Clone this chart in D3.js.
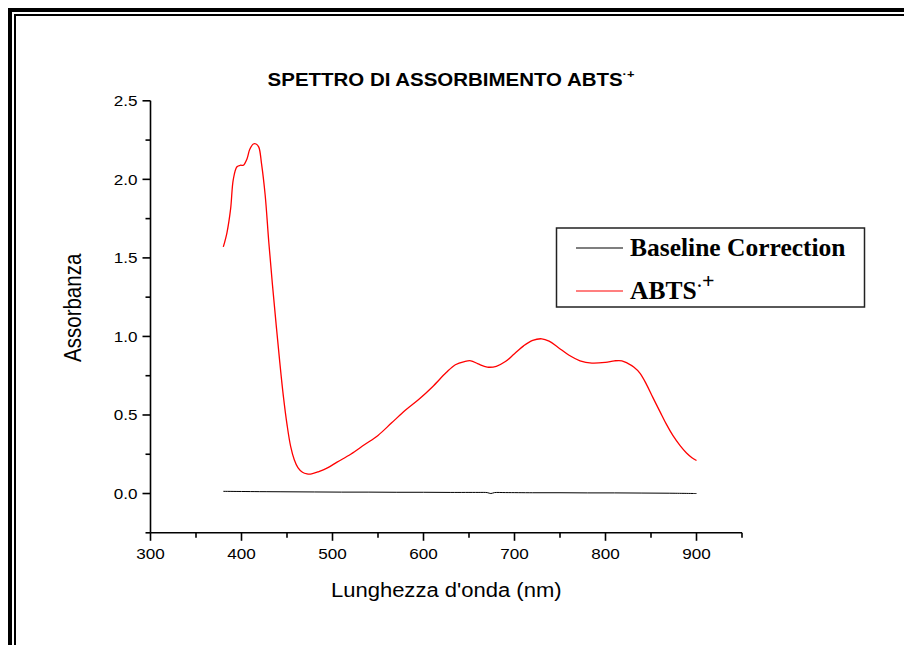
<!DOCTYPE html>
<html><head><meta charset="utf-8">
<script src="https://cdn.jsdelivr.net/npm/d3@7"></script>
<style>body{margin:0;background:#fff}svg{display:block}</style>
</head><body>
<script>
// ---- data ----
const wavelengthABTS = [380,384,388,391,395,399,402,406,409,413,416,419,422,426,430,434,438,442,446,450,454,458,462,467,472,477,485,495,505,520,535,550,565,580,595,610,625,635,645,652,660,670,680,690,700,710,720,730,738,748,760,772,785,800,810,818,824,831,838,845,852,860,867,874,882,889,895,900];
const absABTS = [1.57,1.66,1.81,2.00,2.08,2.09,2.09,2.13,2.19,2.225,2.225,2.205,2.10,1.90,1.60,1.33,1.08,0.84,0.62,0.44,0.30,0.215,0.165,0.135,0.125,0.125,0.14,0.165,0.20,0.25,0.31,0.37,0.45,0.53,0.60,0.68,0.77,0.82,0.84,0.845,0.825,0.805,0.81,0.84,0.89,0.94,0.975,0.985,0.97,0.93,0.88,0.845,0.83,0.835,0.845,0.845,0.83,0.805,0.765,0.695,0.612,0.52,0.44,0.37,0.305,0.258,0.228,0.21];
const wavelengthBase = [380,400,420,450,480,510,540,570,600,630,660,670,674,678,690,720,750,780,810,840,870,900];
const absBase = [0.014,0.013,0.012,0.011,0.010,0.009,0.009,0.008,0.008,0.007,0.007,0.006,0.0,0.006,0.006,0.005,0.005,0.004,0.004,0.003,0.002,0.000];
const xTicks = [300,400,500,600,700,800,900];
const xMinorTicks = [350,450,550,650,750,850,950];
const yTicks = [0.0,0.5,1.0,1.5,2.0,2.5];
const yMinorTicks = [-0.25,0.25,0.75,1.25,1.75,2.25];
const titleText = "SPETTRO DI ASSORBIMENTO ABTS";
const xTitle = "Lunghezza d'onda (nm)";
const yTitle = "Assorbanza";
const legendNames = ["Baseline Correction", "ABTS"];
const colors = ["#000000", "#ff0000"];

// ---- drawing ----
const W = 904, H = 645;
const SANS = "'Liberation Sans', Arial, sans-serif";
const SERIF = "'Liberation Serif', 'Times New Roman', serif";
const svg = d3.select("body").append("svg").attr("width", W).attr("height", H);
svg.append("rect").attr("width", W).attr("height", H).attr("fill", "#fff");

// frame (left + top double border)
svg.append("rect").attr("x", 8).attr("y", 8).attr("width", 4).attr("height", H - 8).attr("fill", "#000");
svg.append("rect").attr("x", 8).attr("y", 8).attr("width", W - 8).attr("height", 4).attr("fill", "#000");
svg.append("rect").attr("x", 14).attr("y", 14).attr("width", 2).attr("height", H - 14).attr("fill", "#000");
svg.append("rect").attr("x", 14).attr("y", 14).attr("width", W - 14).attr("height", 2).attr("fill", "#000");

const x = d3.scaleLinear().domain([300, 950]).range([150.5, 742]);
const y = d3.scaleLinear().domain([-0.25, 2.5]).range([532.8, 100.8]);

const axisG = svg.append("g").attr("stroke", "#000").attr("stroke-width", 1.6);
// axis lines
axisG.append("line").attr("x1", x(300)).attr("x2", x(950)).attr("y1", y(-0.25)).attr("y2", y(-0.25));
axisG.append("line").attr("x1", x(300)).attr("x2", x(300)).attr("y1", y(-0.25)).attr("y2", y(2.5));
// x ticks
axisG.selectAll(".xt").data(xTicks).join("line")
  .attr("x1", d => x(d)).attr("x2", d => x(d)).attr("y1", y(-0.25)).attr("y2", y(-0.25) + 8);
axisG.selectAll(".xm").data(xMinorTicks).join("line")
  .attr("x1", d => x(d)).attr("x2", d => x(d)).attr("y1", y(-0.25)).attr("y2", y(-0.25) + 5);
// y ticks
axisG.selectAll(".yt").data(yTicks).join("line")
  .attr("x1", x(300) - 8).attr("x2", x(300)).attr("y1", d => y(d)).attr("y2", d => y(d));
axisG.selectAll(".ym").data(yMinorTicks).join("line")
  .attr("x1", x(300) - 5).attr("x2", x(300)).attr("y1", d => y(d)).attr("y2", d => y(d));

// tick labels (slightly horizontally stretched like the original)
const SX = 1.18;
svg.selectAll(".xl").data(xTicks).join("text")
  .attr("transform", d => `translate(${x(d)},${y(-0.25) + 26}) scale(${SX},1)`)
  .attr("text-anchor", "middle").attr("font-family", SANS).attr("font-size", 14.5).attr("fill", "#000")
  .text(d => d);
svg.selectAll(".yl").data(yTicks).join("text")
  .attr("transform", d => `translate(${x(300) - 13},${y(d)}) scale(${SX},1)`)
  .attr("dy", "0.36em")
  .attr("text-anchor", "end").attr("font-family", SANS).attr("font-size", 14.5).attr("fill", "#000")
  .text(d => d3.format(".1f")(d));

// axis titles
svg.append("text").attr("transform", `translate(${(x(300) + x(950)) / 2},597) scale(1.13,1)`)
  .attr("text-anchor", "middle").attr("font-family", SANS).attr("font-size", 19.5).text(xTitle);
svg.append("text").attr("transform", `translate(81,${(y(-0.25) + y(2.5)) / 2 - 9}) scale(1.15,1) rotate(-90)`)
  .attr("text-anchor", "middle").attr("font-family", SANS).attr("font-size", 20.5).text(yTitle);

// title
const tt = svg.append("text").attr("transform", `translate(451,86) scale(1.17,1)`)
  .attr("text-anchor", "middle").attr("font-family", SANS).attr("font-size", 17.5).attr("font-weight", "bold");
tt.append("tspan").text(titleText);
tt.append("tspan").attr("dy", -8).attr("font-size", 11).text("·+");

// series
const line = d3.line().x(d => x(d[0])).y(d => y(d[1])).curve(d3.curveCatmullRom.alpha(0.5));
svg.append("path").datum(d3.zip(wavelengthBase, absBase)).attr("d", line)
  .attr("fill", "none").attr("stroke", colors[0]).attr("stroke-width", 1);
svg.append("path").datum(d3.zip(wavelengthABTS, absABTS)).attr("d", line)
  .attr("fill", "none").attr("stroke", colors[1]).attr("stroke-width", 1.3);

// legend
const lg = svg.append("g");
lg.append("rect").attr("x", 556.5).attr("y", 228).attr("width", 308).attr("height", 79)
  .attr("fill", "#fff").attr("stroke", "#222").attr("stroke-width", 1.5);
[0, 1].forEach(i => {
  const yy = 248 + i * 43;
  lg.append("line").attr("x1", 576).attr("x2", 623).attr("y1", yy).attr("y2", yy)
    .attr("stroke", colors[i]).attr("stroke-width", 1.2);
  const t = lg.append("text").attr("x", 630).attr("y", yy + 7.5)
    .attr("font-family", SERIF).attr("font-size", 25.5).attr("font-weight", "bold").attr("fill", "#000");
  t.append("tspan").text(legendNames[i]);
  if (i === 1) {
    t.append("tspan").attr("dy", -8).attr("font-size", 16).text("·");
    t.append("tspan").attr("dy", -3).attr("font-size", 22).text("+");
  }
});
</script>
</body></html>
